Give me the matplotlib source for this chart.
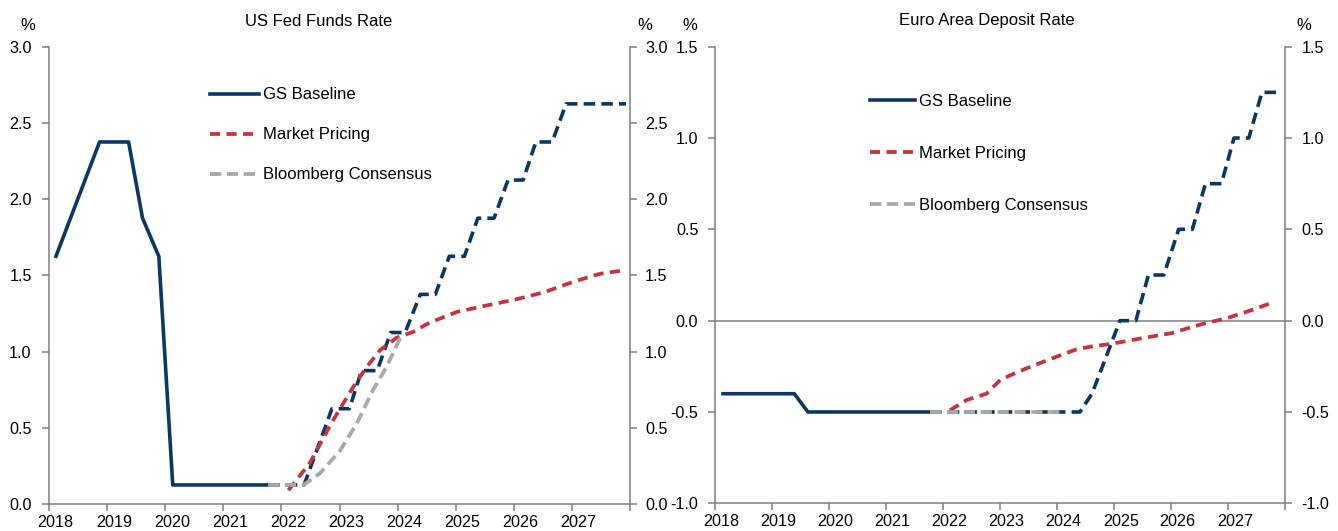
import matplotlib.pyplot as plt
from matplotlib.ticker import FixedLocator, FormatStrFormatter, NullFormatter

plt.rcParams['font.family'] = ['Liberation Sans', 'DejaVu Sans']
plt.rcParams['font.size'] = 12
plt.rcParams['xtick.labelsize'] = 11.6
plt.rcParams['ytick.labelsize'] = 11.6
plt.rcParams['axes.unicode_minus'] = False

NAVY = '#0c3763'
RED = '#c5353b'
GREY = '#a9a9a9'
SPINE = '#7f7f7f'

years = list(range(2018, 2029))
year_labels = [str(y) for y in range(2018, 2028)]

# US Fed Funds Rate
us_hist_x = [2018.12, 2018.37, 2018.62, 2018.87, 2019.37, 2019.61, 2019.89, 2020.13, 2021.77]
us_hist_y = [1.625, 1.875, 2.125, 2.375, 2.375, 1.875, 1.625, 0.125, 0.125]
us_gs_x = [2021.77, 2022.39, 2022.87, 2023.17, 2023.38, 2023.65, 2023.88, 2024.13, 2024.39, 2024.65,
           2024.89, 2025.15, 2025.38, 2025.66, 2025.90, 2026.16, 2026.38, 2026.66, 2026.90, 2027.93]
us_gs_y = [0.125, 0.125, 0.625, 0.625, 0.875, 0.875, 1.125, 1.125, 1.375, 1.375,
           1.625, 1.625, 1.875, 1.875, 2.125, 2.125, 2.375, 2.375, 2.625, 2.625]
us_mkt_x = [2022.12, 2022.49, 2022.89, 2023.24, 2023.47, 2023.70, 2023.98, 2024.27, 2024.55, 2025.02,
            2025.50, 2026.01, 2026.53, 2027.04, 2027.48, 2027.93]
us_mkt_y = [0.09, 0.27, 0.55, 0.77, 0.90, 1.01, 1.09, 1.13, 1.19, 1.26,
            1.30, 1.34, 1.39, 1.46, 1.51, 1.535]
us_bbg_x = [2021.77, 2022.38, 2022.66, 2023.01, 2023.30, 2023.58, 2023.81, 2024.07]
us_bbg_y = [0.125, 0.125, 0.20, 0.35, 0.53, 0.75, 0.90, 1.11]
us_yticks = [0.0, 0.5, 1.0, 1.5, 2.0, 2.5, 3.0]

# Euro Area Deposit Rate
ea_hist_x = [2018.14, 2019.39, 2019.63, 2021.77]
ea_hist_y = [-0.4, -0.4, -0.5, -0.5]
ea_gs_x = [2021.77, 2024.40, 2024.61, 2024.88, 2025.10, 2025.38, 2025.60, 2025.87, 2026.13, 2026.37,
           2026.60, 2026.88, 2027.10, 2027.36, 2027.59, 2027.89]
ea_gs_y = [-0.5, -0.5, -0.40, -0.18, 0.0, 0.0, 0.25, 0.25, 0.5, 0.5,
           0.75, 0.75, 1.0, 1.0, 1.25, 1.25]
ea_mkt_x = [2022.12, 2022.41, 2022.76, 2023.00, 2023.17, 2023.47, 2023.76, 2024.05, 2024.34, 2024.63,
            2024.93, 2025.49, 2026.01, 2026.50, 2026.99, 2027.44, 2027.78]
ea_mkt_y = [-0.49, -0.435, -0.40, -0.325, -0.30, -0.26, -0.225, -0.19, -0.157, -0.14,
            -0.128, -0.096, -0.068, -0.022, 0.015, 0.061, 0.10]
ea_bbg_x = [2021.77, 2024.11]
ea_bbg_y = [-0.5, -0.5]
ea_yticks = [-1.0, -0.5, 0.0, 0.5, 1.0, 1.5]

W, H = 1338, 531


def draw(ax, hist, gs, mkt, bbg, yticks, lpad, rpad, leg_anchor, spacing, hlen):
    ax.plot(*hist, color=NAVY, lw=2.6, label='GS Baseline', zorder=3)
    ax.plot(*gs, color=NAVY, lw=2.6, dashes=(3.2, 1.7), zorder=3)
    ax.plot(*mkt, color=RED, lw=2.7, dashes=(2.7, 1.7), label='Market Pricing', zorder=4)
    ax.plot(*bbg, color=GREY, lw=2.7, dashes=(3.0, 1.5), label='Bloomberg Consensus', zorder=5)

    ax.set_xlim(2018, 2028)
    ax.set_ylim(yticks[0], yticks[-1])
    ax.xaxis.set_major_locator(FixedLocator(years))
    ax.xaxis.set_major_formatter(NullFormatter())
    ax.xaxis.set_minor_locator(FixedLocator([y + 0.115 for y in range(2018, 2028)]))
    ax.set_xticklabels(year_labels, minor=True)
    ax.tick_params(axis='x', which='major', direction='out', length=5, width=1.1, color=SPINE)
    ax.tick_params(axis='x', which='minor', length=0, pad=8)
    ax.set_yticks(yticks)
    ax.yaxis.set_major_formatter(FormatStrFormatter('%.1f'))
    ax.tick_params(axis='y', direction='out', length=5, width=1.1, color=SPINE, pad=lpad)
    for s in ['top', 'right']:
        ax.spines[s].set_visible(False)
    for s in ['left', 'bottom']:
        ax.spines[s].set_color(SPINE)
        ax.spines[s].set_linewidth(1.1)

    axr = ax.twinx()
    axr.set_ylim(yticks[0], yticks[-1])
    axr.set_yticks(yticks)
    axr.yaxis.set_major_formatter(FormatStrFormatter('%.1f'))
    axr.tick_params(axis='y', direction='out', length=5, width=1.1, color=SPINE, pad=rpad)
    for s in ['top', 'left', 'bottom']:
        axr.spines[s].set_visible(False)
    axr.spines['right'].set_color(SPINE)
    axr.spines['right'].set_linewidth(1.1)

    ax.legend(loc='upper left', bbox_to_anchor=leg_anchor, frameon=False, borderpad=0,
              borderaxespad=0, handlelength=hlen, handletextpad=0.25, labelspacing=spacing)


fig = plt.figure(figsize=(W / 100, H / 100), dpi=100)
ax1 = fig.add_axes([49 / W, 1 - 504 / H, 581 / W, (504 - 46.7) / H])
ax2 = fig.add_axes([715 / W, 1 - 503.3 / H, 570.3 / W, (503.3 - 46.7) / H])

draw(ax1, (us_hist_x, us_hist_y), (us_gs_x, us_gs_y), (us_mkt_x, us_mkt_y), (us_bbg_x, us_bbg_y),
     us_yticks, 7.5, 5.8, (0.277, 0.911), 1.5, 2.95)
ax2.axhline(0, color=SPINE, lw=1.1, zorder=1)
draw(ax2, (ea_hist_x, ea_hist_y), (ea_gs_x, ea_gs_y), (ea_mkt_x, ea_mkt_y), (ea_bbg_x, ea_bbg_y),
     ea_yticks, 7, 6.5, (0.272, 0.896), 2.2, 2.7)

fig.text(319 / W, 1 - 21 / H, 'US Fed Funds Rate', ha='center', va='center')
fig.text(987 / W, 1 - 21 / H, 'Euro Area Deposit Rate', ha='center', va='center')
for x in [28, 645, 690, 1304]:
    fig.text(x / W, 1 - 25 / H, '%', ha='center', va='center')

fig.savefig('out.png', dpi=100)
